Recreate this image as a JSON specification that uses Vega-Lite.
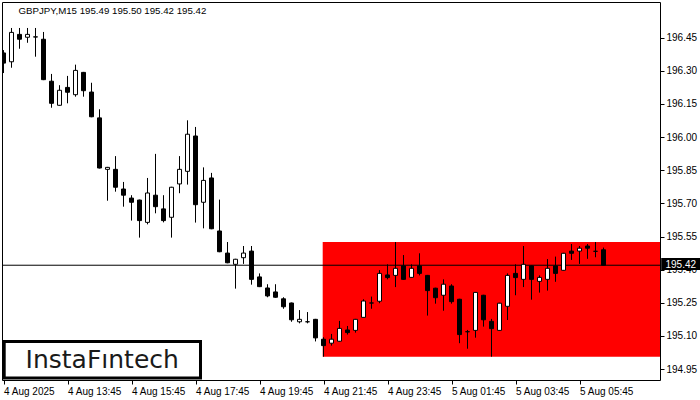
{
  "$schema": "https://vega.github.io/schema/vega-lite/v6.json",
  "width": 658,
  "height": 378,
  "autosize": {"type": "none"},
  "padding": {"left": 2, "top": 2, "right": 40, "bottom": 20},
  "background": "white",
  "config": {
    "view": {"stroke": "black", "strokeWidth": 1},
    "axis": {"labelFont": "Liberation Sans", "labelFontSize": 10, "labelColor": "black", "tickColor": "black", "tickSize": 4, "domain": false, "grid": false, "title": null, "labelOverlap": false, "labelFlush": false, "labelPadding": 2, "tickCount": 30}
  },
  "datasets": {
    "candles": [
      {"i":0,"o":196.381,"h":196.394,"l":196.290,"c":196.335},
      {"i":1,"o":196.341,"h":196.494,"l":196.314,"c":196.474},
      {"i":2,"o":196.465,"h":196.494,"l":196.400,"c":196.443},
      {"i":3,"o":196.452,"h":196.494,"l":196.427,"c":196.465},
      {"i":4,"o":196.453,"h":196.494,"l":196.364,"c":196.454},
      {"i":5,"o":196.443,"h":196.476,"l":196.258,"c":196.260},
      {"i":6,"o":196.253,"h":196.286,"l":196.133,"c":196.153},
      {"i":7,"o":196.144,"h":196.235,"l":196.142,"c":196.212},
      {"i":8,"o":196.225,"h":196.277,"l":196.153,"c":196.203},
      {"i":9,"o":196.192,"h":196.328,"l":196.183,"c":196.302},
      {"i":10,"o":196.293,"h":196.295,"l":196.183,"c":196.210},
      {"i":11,"o":196.204,"h":196.246,"l":196.090,"c":196.092},
      {"i":12,"o":196.087,"h":196.126,"l":195.858,"c":195.860},
      {"i":13,"o":195.854,"h":195.865,"l":195.712,"c":195.863},
      {"i":14,"o":195.854,"h":195.914,"l":195.753,"c":195.773},
      {"i":15,"o":195.765,"h":195.797,"l":195.685,"c":195.737},
      {"i":16,"o":195.724,"h":195.737,"l":195.622,"c":195.705},
      {"i":17,"o":195.715,"h":195.717,"l":195.545,"c":195.622},
      {"i":18,"o":195.614,"h":195.815,"l":195.605,"c":195.747},
      {"i":19,"o":195.737,"h":195.924,"l":195.655,"c":195.685},
      {"i":20,"o":195.675,"h":195.737,"l":195.614,"c":195.622},
      {"i":21,"o":195.637,"h":195.775,"l":195.545,"c":195.773},
      {"i":22,"o":195.788,"h":195.914,"l":195.746,"c":195.854},
      {"i":23,"o":195.845,"h":196.076,"l":195.785,"c":196.013},
      {"i":24,"o":196.005,"h":196.046,"l":195.613,"c":195.694},
      {"i":25,"o":195.705,"h":195.863,"l":195.587,"c":195.804},
      {"i":26,"o":195.815,"h":195.838,"l":195.583,"c":195.585},
      {"i":27,"o":195.575,"h":195.717,"l":195.479,"c":195.481},
      {"i":28,"o":195.475,"h":195.525,"l":195.429,"c":195.431},
      {"i":29,"o":195.424,"h":195.449,"l":195.314,"c":195.447},
      {"i":30,"o":195.454,"h":195.507,"l":195.426,"c":195.475},
      {"i":31,"o":195.484,"h":195.507,"l":195.332,"c":195.356},
      {"i":32,"o":195.367,"h":195.383,"l":195.321,"c":195.323},
      {"i":33,"o":195.317,"h":195.334,"l":195.275,"c":195.281},
      {"i":34,"o":195.299,"h":195.334,"l":195.273,"c":195.275},
      {"i":35,"o":195.268,"h":195.275,"l":195.223,"c":195.232},
      {"i":36,"o":195.249,"h":195.251,"l":195.164,"c":195.173},
      {"i":37,"o":195.164,"h":195.217,"l":195.157,"c":195.175},
      {"i":38,"o":195.164,"h":195.208,"l":195.157,"c":195.164},
      {"i":39,"o":195.175,"h":195.177,"l":195.075,"c":195.091},
      {"i":40,"o":195.085,"h":195.094,"l":195.006,"c":195.056},
      {"i":41,"o":195.067,"h":195.109,"l":195.056,"c":195.085},
      {"i":42,"o":195.076,"h":195.168,"l":195.074,"c":195.134},
      {"i":43,"o":195.127,"h":195.145,"l":195.106,"c":195.115},
      {"i":44,"o":195.125,"h":195.177,"l":195.115,"c":195.175},
      {"i":45,"o":195.184,"h":195.266,"l":195.182,"c":195.258},
      {"i":46,"o":195.249,"h":195.278,"l":195.223,"c":195.249},
      {"i":47,"o":195.257,"h":195.398,"l":195.248,"c":195.383},
      {"i":48,"o":195.376,"h":195.424,"l":195.356,"c":195.364},
      {"i":49,"o":195.374,"h":195.525,"l":195.321,"c":195.406},
      {"i":50,"o":195.417,"h":195.466,"l":195.354,"c":195.356},
      {"i":51,"o":195.365,"h":195.424,"l":195.363,"c":195.406},
      {"i":52,"o":195.417,"h":195.474,"l":195.374,"c":195.383},
      {"i":53,"o":195.374,"h":195.376,"l":195.192,"c":195.305},
      {"i":54,"o":195.316,"h":195.318,"l":195.246,"c":195.273},
      {"i":55,"o":195.284,"h":195.356,"l":195.214,"c":195.334},
      {"i":56,"o":195.326,"h":195.334,"l":195.246,"c":195.255},
      {"i":57,"o":195.266,"h":195.268,"l":195.067,"c":195.106},
      {"i":58,"o":195.119,"h":195.127,"l":195.042,"c":195.119},
      {"i":59,"o":195.125,"h":195.299,"l":195.092,"c":195.297},
      {"i":60,"o":195.284,"h":195.286,"l":195.142,"c":195.173},
      {"i":61,"o":195.166,"h":195.177,"l":195.006,"c":195.133},
      {"i":62,"o":195.125,"h":195.250,"l":195.123,"c":195.248},
      {"i":63,"o":195.234,"h":195.383,"l":195.172,"c":195.374},
      {"i":64,"o":195.383,"h":195.424,"l":195.284,"c":195.364},
      {"i":65,"o":195.356,"h":195.507,"l":195.321,"c":195.424},
      {"i":66,"o":195.417,"h":195.419,"l":195.264,"c":195.356},
      {"i":67,"o":195.347,"h":195.374,"l":195.296,"c":195.365},
      {"i":68,"o":195.356,"h":195.448,"l":195.305,"c":195.406},
      {"i":69,"o":195.417,"h":195.459,"l":195.345,"c":195.383},
      {"i":70,"o":195.397,"h":195.476,"l":195.395,"c":195.474},
      {"i":71,"o":195.484,"h":195.516,"l":195.444,"c":195.474},
      {"i":72,"o":195.484,"h":195.507,"l":195.426,"c":195.497},
      {"i":73,"o":195.507,"h":195.516,"l":195.449,"c":195.497},
      {"i":74,"o":195.483,"h":195.525,"l":195.456,"c":195.483},
      {"i":75,"o":195.49,"h":195.50,"l":195.42,"c":195.42}
    ]
  },
  "layer": [
    {
      "data": {"values": [{"i": 39.9, "i2": 82.0625, "lo": 195.006, "hi": 195.525}]},
      "mark": {"type": "rect", "color": "#ff0000"},
      "encoding": {
        "x": {"field": "i", "type": "quantitative", "scale": {"domain": [-0.1875, 82.0625], "nice": false, "zero": false, "padding": 0},
              "axis": {"orient": "bottom", "values": [0, 8, 16, 24, 32, 40, 48, 56, 64, 72], "tickCount": 30, "labelAlign": "left", "labelOverlap": false, "labelFlush": false,
                       "labelExpr": "['4 Aug 2025','4 Aug 13:45','4 Aug 15:45','4 Aug 17:45','4 Aug 19:45','4 Aug 21:45','4 Aug 23:45','5 Aug 01:45','5 Aug 03:45','5 Aug 05:45'][round(datum.value/8)]"}},
        "x2": {"field": "i2"},
        "y": {"field": "lo", "type": "quantitative", "scale": {"domain": [194.9004, 196.6116], "nice": false, "zero": false},
              "axis": {"orient": "right", "values": [194.95, 195.1, 195.25, 195.4, 195.55, 195.7, 195.85, 196.0, 196.15, 196.3, 196.45], "tickCount": 30, "format": ".2f", "labelOverlap": false, "labelFlush": false, "labelBound": false}},
        "y2": {"field": "hi"}
      }
    },
    {
      "data": {"values": [{"bid": 195.42}]},
      "mark": {"type": "rule", "color": "black", "strokeWidth": 1},
      "encoding": {
        "y": {"field": "bid", "type": "quantitative", "scale": {"domain": [194.9004, 196.6116], "nice": false, "zero": false}, "axis": {"orient": "right", "labelOverlap": false}}
      }
    },
    {
      "data": {"name": "candles"},
      "mark": {"type": "rule", "color": "black", "strokeWidth": 1},
      "encoding": {
        "x": {"field": "i", "type": "quantitative", "scale": {"domain": [-0.1875, 82.0625], "nice": false, "zero": false, "padding": 0}, "axis": {"orient": "bottom", "labelOverlap": false}},
        "y": {"field": "l", "type": "quantitative", "scale": {"domain": [194.9004, 196.6116], "nice": false, "zero": false}, "axis": {"orient": "right", "labelOverlap": false}},
        "y2": {"field": "h"}
      }
    },
    {
      "data": {"name": "candles"},
      "mark": {"type": "bar", "width": 4, "stroke": "black", "strokeWidth": 1, "clip": true},
      "encoding": {
        "x": {"field": "i", "type": "quantitative", "scale": {"domain": [-0.1875, 82.0625], "nice": false, "zero": false, "padding": 0}, "axis": {"orient": "bottom", "labelOverlap": false}},
        "y": {"field": "o", "type": "quantitative", "scale": {"domain": [194.9004, 196.6116], "nice": false, "zero": false}, "axis": {"orient": "right", "labelOverlap": false}},
        "y2": {"field": "c"},
        "fill": {"condition": {"test": "datum.c >= datum.o", "value": "white"}, "value": "black"}
      }
    },
    {
      "data": {"values": [{"i": 0.0875, "i2": 24.625, "lo": 194.9095, "hi": 195.075}]},
      "mark": {"type": "rect", "fill": "white", "stroke": "black", "strokeWidth": 3},
      "encoding": {
        "x": {"field": "i", "type": "quantitative", "scale": {"domain": [-0.1875, 82.0625], "nice": false, "zero": false, "padding": 0}, "axis": {"orient": "bottom", "labelOverlap": false}},
        "x2": {"field": "i2"},
        "y": {"field": "lo", "type": "quantitative", "scale": {"domain": [194.9004, 196.6116], "nice": false, "zero": false}, "axis": {"orient": "right", "labelOverlap": false}},
        "y2": {"field": "hi"}
      }
    },
    {
      "data": {"values": [{"i": 12.34, "p": 194.953, "label": "InstaFıntech"}]},
      "mark": {"type": "text", "font": "DejaVu Sans", "fontSize": 25, "color": "#1a1a1a", "align": "center", "baseline": "alphabetic"},
      "encoding": {
        "x": {"field": "i", "type": "quantitative", "scale": {"domain": [-0.1875, 82.0625], "nice": false, "zero": false, "padding": 0}, "axis": {"orient": "bottom", "labelOverlap": false}},
        "y": {"field": "p", "type": "quantitative", "scale": {"domain": [194.9004, 196.6116], "nice": false, "zero": false}, "axis": {"orient": "right", "labelOverlap": false}},
        "text": {"field": "label"}
      }
    },
    {
      "data": {"values": [{"i": 1.875, "p": 196.571, "label": "GBPJPY,M15  195.49 195.50 195.42 195.42"}]},
      "mark": {"type": "text", "font": "Liberation Sans", "fontSize": 9.7, "color": "black", "align": "left", "baseline": "middle"},
      "encoding": {
        "x": {"field": "i", "type": "quantitative", "scale": {"domain": [-0.1875, 82.0625], "nice": false, "zero": false, "padding": 0}, "axis": {"orient": "bottom", "labelOverlap": false}},
        "y": {"field": "p", "type": "quantitative", "scale": {"domain": [194.9004, 196.6116], "nice": false, "zero": false}, "axis": {"orient": "right", "labelOverlap": false}},
        "text": {"field": "label"}
      }
    },
    {
      "data": {"values": [{"i": 82.2125, "i2": 87.2, "lo": 195.3984, "hi": 195.4527}]},
      "mark": {"type": "rect", "fill": "black"},
      "encoding": {
        "x": {"field": "i", "type": "quantitative", "scale": {"domain": [-0.1875, 82.0625], "nice": false, "zero": false, "padding": 0}, "axis": {"orient": "bottom", "labelOverlap": false}},
        "x2": {"field": "i2"},
        "y": {"field": "lo", "type": "quantitative", "scale": {"domain": [194.9004, 196.6116], "nice": false, "zero": false}, "axis": {"orient": "right", "labelOverlap": false}},
        "y2": {"field": "hi"}
      }
    },
    {
      "data": {"values": [{"i": 82.75, "p": 195.42, "label": "195.42"}]},
      "mark": {"type": "text", "font": "Liberation Sans", "fontSize": 10, "color": "white", "align": "left", "baseline": "middle"},
      "encoding": {
        "x": {"field": "i", "type": "quantitative", "scale": {"domain": [-0.1875, 82.0625], "nice": false, "zero": false, "padding": 0}, "axis": {"orient": "bottom", "labelOverlap": false}},
        "y": {"field": "p", "type": "quantitative", "scale": {"domain": [194.9004, 196.6116], "nice": false, "zero": false}, "axis": {"orient": "right", "labelOverlap": false}},
        "text": {"field": "label"}
      }
    }
  ]
}
